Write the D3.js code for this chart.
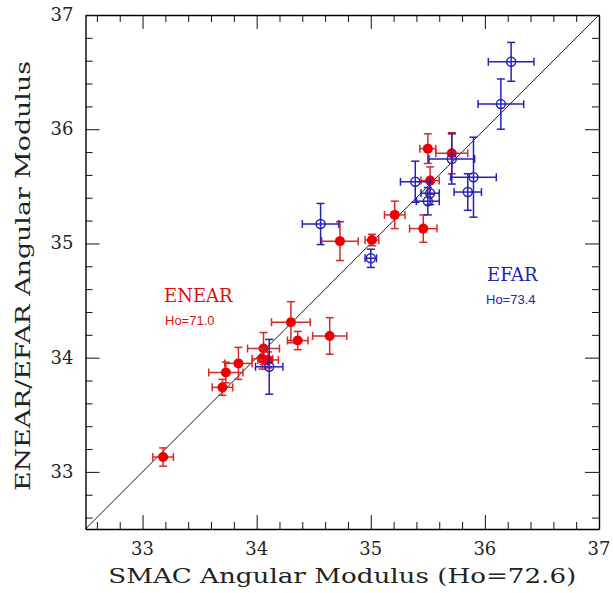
<!DOCTYPE html>
<html>
<head>
<meta charset="utf-8">
<script src="https://cdn.jsdelivr.net/npm/d3@7"></script>
<style>
  body { margin: 0; background: #fff; }
  svg text { font-family: "DejaVu Serif", serif; }
</style>
</head>
<body>
<script>
// ENEAR (red, filled) : SMAC modulus, ENEAR modulus, errors
var enearX  = [33.18, 33.70, 33.73, 33.84, 34.06, 34.05, 34.10, 34.30, 34.36, 34.64, 34.73, 35.01, 35.21, 35.46, 35.50, 35.71, 35.52];
var enearY  = [33.13, 33.74, 33.87, 33.95, 34.08, 33.99, 33.98, 34.31, 34.15, 34.19, 35.02, 35.03, 35.25, 35.13, 35.83, 35.79, 35.55];
var enearXe = [0.09, 0.09, 0.15, 0.12, 0.14, 0.09, 0.09, 0.17, 0.09, 0.15, 0.16, 0.06, 0.09, 0.12, 0.07, 0.14, 0.08];
var enearYe = [0.08, 0.07, 0.09, 0.14, 0.14, 0.09, 0.07, 0.18, 0.08, 0.16, 0.17, 0.05, 0.12, 0.12, 0.13, 0.18, 0.12];

// EFAR (blue, open)
var efarX  = [34.11, 34.56, 35.00, 35.39, 35.52, 35.50, 35.71, 35.90, 35.85, 36.14, 36.23];
var efarY  = [33.92, 35.17, 34.87, 35.54, 35.44, 35.37, 35.74, 35.58, 35.45, 36.22, 36.59];
var efarXe = [0.12, 0.16, 0.05, 0.13, 0.08, 0.10, 0.20, 0.20, 0.12, 0.20, 0.20];
var efarYe = [0.24, 0.18, 0.08, 0.18, 0.10, 0.12, 0.22, 0.35, 0.16, 0.22, 0.17];

var domain = [32.5, 37];
var tickValues = [33, 34, 35, 36, 37];

(function () {
var W = 613, H = 593;
var mLeft = 85.5, mRight = 599, mTop = 15, mBottom = 529;

var x = d3.scaleLinear().domain(domain).range([mLeft, mRight]);
var y = d3.scaleLinear().domain(domain).range([mBottom, mTop]);

var svg = d3.select("body").append("svg")
  .attr("width", W)
  .attr("height", H);

// minor ticks every 0.2
var minor = d3.range(32.6, 36.99, 0.2).map(function (d) { return +d.toFixed(1); })
  .filter(function (d) { return tickValues.indexOf(d) < 0; });

function axis(gen, scale, tv, size) {
  return gen(scale).tickValues(tv).tickSize(size).tickFormat("");
}

var axes = svg.append("g").attr("class", "axes");
[[d3.axisBottom, x, "translate(0," + mBottom + ")"],
 [d3.axisTop, x, "translate(0," + mTop + ")"],
 [d3.axisLeft, y, "translate(" + mLeft + ",0)"],
 [d3.axisRight, y, "translate(" + mRight + ",0)"]].forEach(function (a) {
  var g = axes.append("g").attr("transform", a[2]);
  g.call(axis(a[0], a[1], tickValues, -14).tickSizeOuter(0));
  g.append("g").call(axis(a[0], a[1], minor, -7).tickSizeOuter(0))
    .select(".domain").remove();
});
axes.selectAll(".domain").attr("stroke", "#000").attr("stroke-width", 1.4);
axes.selectAll(".tick line").attr("stroke", "#111").attr("stroke-width", 1);

// tick labels
svg.append("g").selectAll("text")
  .data(tickValues)
  .enter().append("text")
  .attr("x", function (d) { return x(d); })
  .attr("y", mBottom + 26)
  .attr("text-anchor", "middle")
  .attr("font-size", 18)
  .attr("fill", "#222")
  .text(function (d) { return d; });

svg.append("g").selectAll("text")
  .data(tickValues)
  .enter().append("text")
  .attr("x", mLeft - 12)
  .attr("y", function (d) { return y(d) + 6; })
  .attr("text-anchor", "end")
  .attr("font-size", 18)
  .attr("fill", "#222")
  .text(function (d) { return d; });

// axis titles
svg.append("text")
  .attr("x", (mLeft + mRight) / 2)
  .attr("y", 583)
  .attr("text-anchor", "middle")
  .attr("font-size", 21)
  .attr("fill", "#222")
  .attr("textLength", 468)
  .attr("lengthAdjust", "spacingAndGlyphs")
  .text("SMAC Angular Modulus (Ho=72.6)");

svg.append("text")
  .attr("transform", "translate(30," + ((mTop + mBottom) / 2 + 4) + ") rotate(-90)")
  .attr("text-anchor", "middle")
  .attr("font-size", 21)
  .attr("fill", "#222")
  .attr("textLength", 430)
  .attr("lengthAdjust", "spacingAndGlyphs")
  .text("ENEAR/EFAR Angular Modulus");

// one-to-one line
var plot = svg.append("g");
plot.append("line")
  .attr("x1", x(domain[0])).attr("y1", y(domain[0]))
  .attr("x2", x(domain[1])).attr("y2", y(domain[1]))
  .attr("stroke", "#000").attr("stroke-width", 0.9);

function drawSet(xs, ys, xe, ye, color, filled) {
  var data = xs.map(function (d, i) { return { x: d, y: ys[i], xe: xe[i], ye: ye[i] }; });
  var g = plot.append("g").attr("stroke", color).attr("stroke-width", 1.5).attr("fill", "none");
  var cap = 4;
  var pt = g.selectAll("g").data(data).enter().append("g");
  pt.append("line")
    .attr("x1", function (d) { return x(d.x - d.xe); })
    .attr("x2", function (d) { return x(d.x + d.xe); })
    .attr("y1", function (d) { return y(d.y); })
    .attr("y2", function (d) { return y(d.y); });
  pt.append("line")
    .attr("x1", function (d) { return x(d.x); })
    .attr("x2", function (d) { return x(d.x); })
    .attr("y1", function (d) { return y(d.y - d.ye); })
    .attr("y2", function (d) { return y(d.y + d.ye); });
  [-1, 1].forEach(function (s) {
    pt.append("line")
      .attr("x1", function (d) { return x(d.x + s * d.xe); })
      .attr("x2", function (d) { return x(d.x + s * d.xe); })
      .attr("y1", function (d) { return y(d.y) - cap; })
      .attr("y2", function (d) { return y(d.y) + cap; });
    pt.append("line")
      .attr("x1", function (d) { return x(d.x) - cap; })
      .attr("x2", function (d) { return x(d.x) + cap; })
      .attr("y1", function (d) { return y(d.y + s * d.ye); })
      .attr("y2", function (d) { return y(d.y + s * d.ye); });
  });
  pt.append("circle")
    .attr("cx", function (d) { return x(d.x); })
    .attr("cy", function (d) { return y(d.y); })
    .attr("r", filled ? 5 : 4.5)
    .attr("fill", filled ? "#ee0000" : "none")
    .attr("stroke", filled ? "none" : color);
}

drawSet(enearX, enearY, enearXe, enearYe, "#d42a2a", true);
drawSet(efarX, efarY, efarXe, efarYe, "#2222bb", false);

// legends
svg.append("text").attr("x", 164).attr("y", 302)
  .attr("font-size", 18).attr("fill", "#dd1111").text("ENEAR");
svg.append("text").attr("x", 165).attr("y", 325)
  .style("font-family", "'Liberation Sans', Arial, sans-serif")
  .attr("font-size", 13).attr("fill", "#dd1111").text("Ho=71.0");
svg.append("text").attr("x", 487).attr("y", 281)
  .attr("font-size", 18).attr("fill", "#2222bb").text("EFAR");
svg.append("text").attr("x", 486).attr("y", 304)
  .style("font-family", "'Liberation Sans', Arial, sans-serif")
  .attr("font-size", 13).attr("fill", "#2222bb").text("Ho=73.4");
})();
</script>
</body>
</html>
